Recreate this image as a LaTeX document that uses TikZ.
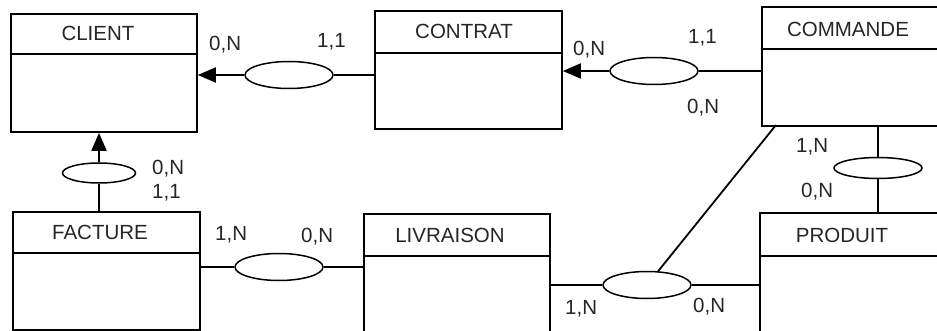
\documentclass[tikz,border=0pt]{standalone}
\usepackage{fontspec}
\setmainfont{Liberation Sans}
\usetikzlibrary{arrows.meta,shapes.geometric,calc}
\begin{document}
\begin{tikzpicture}[x=1pt,y=-1pt,
  txt/.style={font=\fontsize{20.5}{24}\selectfont, inner sep=0pt, text=black!85},
  lbl/.style={txt, anchor=west},
  ent/.style={draw, line width=1.8pt, rectangle, anchor=north west, inner sep=0pt},
  rel/.style={draw, fill=white, line width=1.5pt, ellipse, inner sep=0pt, minimum width=88pt, minimum height=27pt},
  ln/.style={line width=1.8pt},
  arr/.style={-{Triangle[length=18pt,width=15pt]}}]
\useasboundingbox (0,0) rectangle (937,331);
\clip (0,0) rectangle (937,331);
\fill[white] (0,0) rectangle (937,331);
% entities
\node[ent, minimum width=186pt, minimum height=118pt] (client) at (10,13) {};
\node[ent, minimum width=187pt, minimum height=118pt] (contrat) at (374,10) {};
\node[ent, minimum width=220pt, minimum height=119pt] (commande) at (761,6) {};
\node[ent, minimum width=187pt, minimum height=118pt] (facture) at (12,211) {};
\node[ent, minimum width=186pt, minimum height=122pt] (livraison) at (363,213) {};
\node[ent, minimum width=220pt, minimum height=150pt] (produit) at (759,212) {};
% dividers
\draw[ln] ($(client.north west)+(0,41)$) -- ($(client.north east)+(0,41)$);
\draw[ln] ($(contrat.north west)+(0,43)$) -- ($(contrat.north east)+(0,43)$);
\draw[ln] ($(commande.north west)+(0,43)$) -- ($(commande.north east)+(0,43)$);
\draw[ln] ($(facture.north west)+(0,42)$) -- ($(facture.north east)+(0,42)$);
\draw[ln] ($(livraison.north west)+(0,43)$) -- ($(livraison.north east)+(0,43)$);
\draw[ln] ($(produit.north west)+(0,44)$) -- ($(produit.north east)+(0,44)$);
% titles
\node[txt] (tclient) at (98,33) {CLIENT};
\node[txt] (tcontrat) at (464,31) {CONTRAT};
\node[txt] (tcommande) at (848,29) {COMMANDE};
\node[txt] (tfacture) at (100,232) {FACTURE};
\node[txt] (tlivraison) at (450,235) {LIVRAISON};
\node[txt] (tproduit) at (842,235) {PRODUIT};
% relations
\node[rel] (r1) at (289,75) {};
\node[rel] (r2) at (654,71) {};
\node[rel, minimum width=73pt, minimum height=20pt] (r3) at (99,173) {};
\node[rel] (r4) at (279,267) {};
\node[rel] (r5) at (647,285) {};
\node[rel, minimum height=21pt] (r6) at (878,168) {};
% connectors
\draw[ln,arr] (r1.west) -- (r1.west -| client.east);
\draw[ln] (r1.east) -- (r1.east -| contrat.west);
\draw[ln,arr] (r2.west) -- (r2.west -| contrat.east);
\draw[ln] (r2.east) -- (r2.east -| commande.west);
\draw[ln,arr] (r3.north) -- (r3.north |- client.south);
\draw[ln] (r3.south) -- (r3.south |- facture.north);
\draw[ln] (facture.east |- r4) -- (r4.west);
\draw[ln] (r4.east) -- (r4.east -| livraison.west);
\draw[ln] (livraison.east |- r5) -- (r5.west);
\draw[ln] (r5.east) -- (r5.east -| produit.west);
\coordinate (cb) at (776,125);
\draw[ln] (cb) -- (r5);
\draw[ln] (r6.north) -- (r6.north |- commande.south);
\draw[ln] (r6.south) -- (r6.south |- produit.north);
% cardinalities
\node[lbl] (c1) at (209,45) {0,N};
\node[lbl] (c2) at (317,42) {1,1};
\node[lbl] (c3) at (573,50) {0,N};
\node[lbl] (c4) at (688,38) {1,1};
\node[lbl] (c5) at (687,108) {0,N};
\node[lbl] (c6) at (152,169) {0,N};
\node[lbl] (c7) at (152,193) {1,1};
\node[lbl] (c8) at (215,235) {1,N};
\node[lbl] (c9) at (301,237) {0,N};
\node[lbl] (c10) at (796,147) {1,N};
\node[lbl] (c11) at (801,192) {0,N};
\node[lbl] (c12) at (565,309) {1,N};
\node[lbl] (c13) at (693,307) {0,N};
\end{tikzpicture}
\end{document}
